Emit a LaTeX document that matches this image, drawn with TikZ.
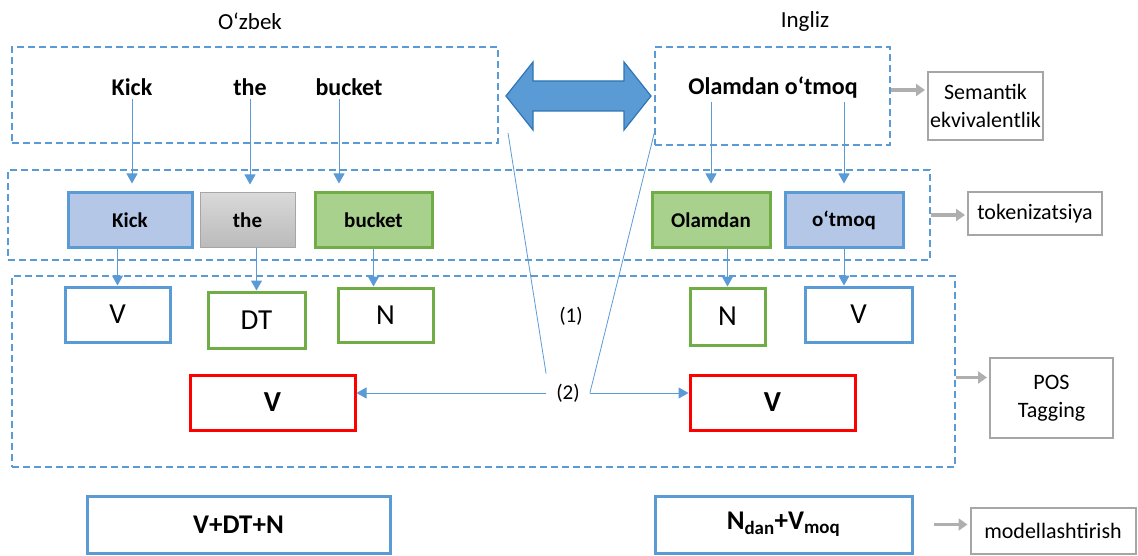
\documentclass[tikz,border=0pt]{standalone}
\usepackage{fontspec}
\setmainfont{Carlito}
\usetikzlibrary{arrows.meta, positioning}
\definecolor{frameblue}{RGB}{91, 155, 213}
\definecolor{darkblue}{RGB}{46, 117, 182}
\definecolor{tokblue}{RGB}{180, 199, 231}
\definecolor{tokgreen}{RGB}{169, 209, 142}
\definecolor{edgegreen}{RGB}{112, 173, 71}
\definecolor{edgegray}{RGB}{166, 166, 166}
\definecolor{arrowgray}{RGB}{175, 175, 175}
\definecolor{tagred}{RGB}{255, 0, 0}

\begin{document}
\begin{tikzpicture}[x=1pt, y=-1pt,
    frame/.style={draw=frameblue, line width=1.5pt, dash pattern=on 7pt off 4pt, inner sep=0pt},
    head/.style={font=\fontsize{23}{26}\selectfont},
    word/.style={font=\bfseries\fontsize{24}{27}\selectfont},
    tok/.style={line width=3pt, inner sep=0pt, minimum height=55pt, font=\bfseries\fontsize{21}{24}\selectfont},
    tag/.style={draw, line width=3pt, fill=white, inner sep=0pt, font=\fontsize{29}{32}\selectfont},
    redtag/.style={draw=tagred, line width=3pt, inner sep=0pt, minimum width=165pt, minimum height=55pt, font=\bfseries\fontsize{29}{32}\selectfont},
    gbox/.style={draw=edgegray, line width=2pt, inner sep=0pt, align=center, font=\fontsize{22}{28}\selectfont},
    small/.style={font=\fontsize{21}{24}\selectfont},
    barrow/.style={draw=frameblue, line width=1pt, -{Triangle[length=10pt, width=11pt]}},
    garrow/.style={draw=arrowgray, line width=3.5pt, -{Triangle[length=9pt, width=12pt]}, shorten >=2pt}]
\useasboundingbox (0,0) rectangle (1138,556);

% Headings
\node[head] (uzb) at (250,21) {O‘zbek};
\node[head] (eng) at (805,21) {Ingliz};

% Phrases
\node[frame, minimum width=486pt, minimum height=96pt] (uzfr) at (255,95) {};
\node[frame, minimum width=235pt, minimum height=98pt] (enfr) at (772.5,96) {};
\node[word] (wkick) at (132,87) {Kick};
\node[word] (wthe) at (250,87) {the};
\node[word] (wbucket) at (349,87) {bucket};
\node[word] (wphrase) at (773,88) {Olamdan o‘tmoq};
\fill[fill=frameblue, draw=darkblue, line width=1.2pt]
  (506,96) -- (533,62) -- (533,81) -- (624,81) -- (624,62) -- (651,96)
  -- (624,130) -- (624,111) -- (533,111) -- (533,130) -- cycle;

% Tokens
\node[frame, minimum width=922pt, minimum height=90pt] (tkfr) at (469,215) {};
\node[tok, draw=frameblue, fill=tokblue, minimum width=124pt] (tkick) at (130,220.5) {Kick};
\node[tok, draw=edgegray, line width=1pt, top color=black!15, bottom color=black!27, minimum width=95pt] (tthe) at (247.5,220.5) {the};
\node[tok, draw=edgegreen, fill=tokgreen, minimum width=117pt] (tbucket) at (373.5,220.5) {bucket};
\node[tok, draw=edgegreen, fill=tokgreen, minimum width=118pt] (tolam) at (711,220.5) {Olamdan};
\node[tok, draw=frameblue, fill=tokblue, minimum width=118pt] (totm) at (844,220.5) {o‘tmoq};

\draw[barrow, shorten >=8pt] (wkick.south) -- (wkick.south |- tkick.north);
\draw[barrow, shorten >=8pt] (wthe.south) -- (wthe.south |- tthe.north);
\draw[barrow, shorten >=8pt] ([xshift=-10pt]wbucket.south) -- ([xshift=-10pt]wbucket.south |- tbucket.north);
\draw[barrow, shorten >=8pt] (wphrase.south -| tolam.north) -- (tolam.north);
\draw[barrow, shorten >=8pt] (wphrase.south -| totm.north) -- (totm.north);

% POS tags
\node[frame, minimum width=943pt, minimum height=191pt] (psfr) at (483.5,371.5) {};
\node[tag, draw=frameblue, minimum width=105pt, minimum height=55pt] (pv1) at (117.5,314.5) {V};
\node[tag, draw=edgegreen, minimum width=97pt, minimum height=56pt] (pdt) at (256.5,320) {DT};
\node[tag, draw=edgegreen, minimum width=95pt, minimum height=54pt] (pn1) at (385.5,315) {N};
\node[tag, draw=edgegreen, minimum width=75pt, minimum height=57pt] (pn2) at (727.5,316.5) {N};
\node[tag, draw=frameblue, minimum width=107pt, minimum height=55pt] (pv2) at (858.5,314.5) {V};

\draw[barrow] (tkick.south -| pv1.north) -- (pv1.north);
\draw[barrow] (tthe.south -| pdt.north) -- (pdt.north);
\draw[barrow] (tbucket.south) -- (tbucket.south |- pn1.north);
\draw[barrow] (tolam.south -| pn2.north) -- (pn2.north);
\draw[barrow] (totm.south) -- (totm.south |- pv2.north);

\node[redtag] (rv1) at (272.5,402.5) {V};
\node[redtag] (rv2) at (772.5,402.5) {V};
\node[small] (n1) at (571,316) {(1)};
\node[small, inner sep=10pt] (n2) at (568,393) {(2)};
\coordinate (la) at (508,133);
\coordinate (lb) at (655,130);
\draw[frameblue, line width=0.8pt] (la) -- (n2.north west);
\draw[frameblue, line width=0.8pt] (lb) -- (n2.east);
\draw[barrow] (n2.west) -- (n2.west -| rv1.east);
\draw[barrow] (n2.east) -- (n2.east -| rv2.west);

% Models
\node[tag, draw=frameblue, minimum width=303pt, minimum height=57pt, font=\bfseries\fontsize{27}{30}\selectfont] (vdtn) at (238.5,524.5) {V+DT+N};
\node[tag, draw=frameblue, minimum width=257pt, minimum height=57pt, font=\bfseries\fontsize{27}{30}\selectfont] (ndv) at (783.5,524.5) {N\textsubscript{dan}+V\textsubscript{moq}};

% Stages
\node[gbox, minimum width=115pt, minimum height=68pt] (sem) at (985.5,106) {Semantik\\ekvivalentlik};
\node[gbox, minimum width=134pt, minimum height=43pt] (tokz) at (1035,213.5) {tokenizatsiya};
\node[gbox, minimum width=123pt, minimum height=80pt] (pos) at (1051.5,398) {POS\\Tagging};
\node[gbox, minimum width=165pt, minimum height=46pt] (model) at (1053,530.5) {modellashtirish};

\draw[garrow] ([yshift=6pt]enfr.east) -- ([yshift=6pt]enfr.east -| sem.west);
\draw[garrow] (tkfr.east) -- (tkfr.east -| tokz.west);
\draw[garrow] ([yshift=-6pt]psfr.east) -- ([yshift=-6pt]psfr.east -| pos.west);
\draw[garrow, shorten <=20pt] (ndv.east) -- (ndv.east -| model.west);
\end{tikzpicture}
\end{document}
